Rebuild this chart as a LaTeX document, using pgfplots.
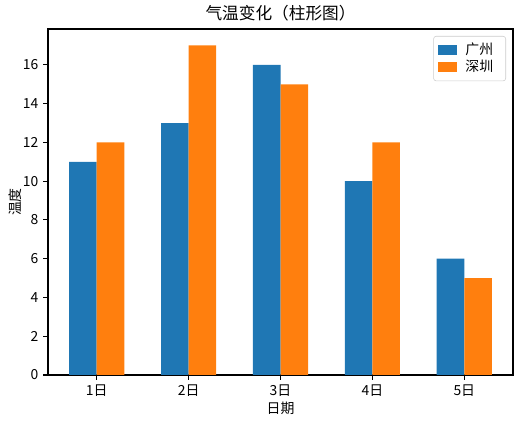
\documentclass[border=0pt]{standalone}
\usepackage{pgfplots}
\pgfplotsset{compat=1.18}
\usepackage{fontspec}
\setmainfont{Noto Sans CJK SC}
\definecolor{c1}{HTML}{1F77B4}
\definecolor{c2}{HTML}{FF7F0E}
\begin{document}
\begin{tikzpicture}
\begin{axis}[
  at={(0,0)}, anchor=south west,
  scale only axis, width=334.8pt, height=249.1pt,
  xmin=-0.53, xmax=4.53, ymin=0, ymax=17.85,
  xtick={0,1,2,3,4}, xticklabels={1日,2日,3日,4日,5日},
  ytick={0,2,4,6,8,10,12,14,16},
  tick align=outside, tick pos=left,
  major tick length=3.5pt,
  tick style={black, line width=0.8pt},
  axis line style={line width=0.8pt},
  /pgf/number format/assume math mode=true,
  tick label style={font=\fontsize{10}{12}\selectfont},
  label style={font=\fontsize{10}{12}\selectfont},
  xlabel={日期}, ylabel={温度},
  xlabel style={yshift=3pt},
  ylabel style={yshift=-6pt},
  title={气温变化（柱形图）},
  title style={font=\fontsize{12}{14}\selectfont, yshift=-4pt},
  legend style={at={(0.985,0.98)}, anchor=north east, draw=black!20, rounded corners=2pt,
    font=\fontsize{10}{12}\selectfont, row sep=-1.5pt, inner sep=3pt,
    nodes={inner xsep=6pt}},
  legend cell align=left,
  legend image code/.code={\fill[#1, sharp corners] (0pt,-3.5pt) rectangle (14pt,3.5pt);},
]
\addplot[ybar, bar width=0.3, fill=c1, draw=none, bar shift=0pt] coordinates {(-0.15,11) (0.85,13) (1.85,16) (2.85,10) (3.85,6)};
\addlegendentry{广州}
\addplot[ybar, bar width=0.3, fill=c2, draw=none, bar shift=0pt] coordinates {(0.15,12) (1.15,17) (2.15,15) (3.15,12) (4.15,5)};
\addlegendentry{深圳}
\end{axis}
\pgfresetboundingbox
\path (-34.56pt,-34.56pt) rectangle (342.72pt,270pt);
\end{tikzpicture}
\end{document}
